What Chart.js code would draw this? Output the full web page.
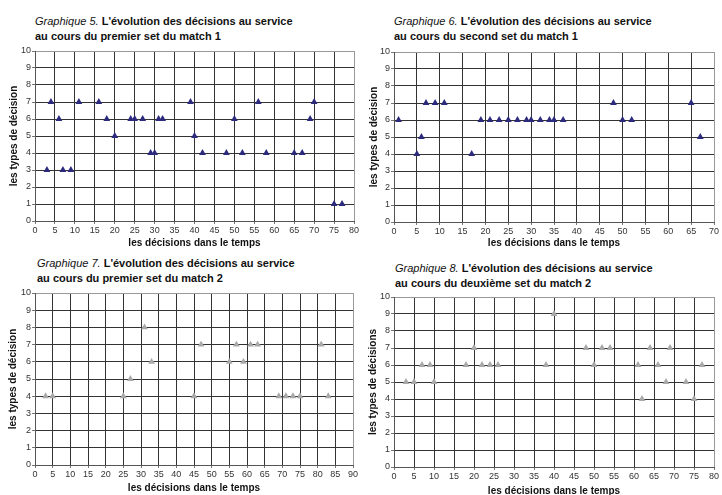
<!DOCTYPE html>
<html><head><meta charset="utf-8">
<script src="https://cdn.jsdelivr.net/npm/chart.js@4"></script>
<style>
body{margin:0;background:#fff;width:722px;height:495px;position:relative;overflow:hidden;font-family:"Liberation Sans",Arial,sans-serif;}
.t{position:absolute;font-size:11px;line-height:15px;color:#111;font-weight:bold;white-space:nowrap;}
.t i{font-weight:normal;}
canvas{position:absolute;}
</style></head><body>
<div class="t" style="left:35px;top:14px"><i>Graphique 5.</i> L'évolution des décisions au service<br>au cours du premier set du match 1</div>
<div class="t" style="left:394px;top:14px"><i>Graphique 6.</i> L'évolution des décisions au service<br>au cours du second set du match 1</div>
<div class="t" style="left:37px;top:256px"><i>Graphique 7.</i> L'évolution des décisions au service<br>au cours du premier set du match 2</div>
<div class="t" style="left:395px;top:261px"><i>Graphique 8.</i> L'évolution des décisions au service<br>au cours du deuxième set du match 2</div>
<canvas id="c1" width="361" height="209" style="left:0;top:40px"></canvas>
<canvas id="c2" width="361" height="209" style="left:361px;top:40px"></canvas>
<canvas id="c3" width="361" height="209" style="left:0;top:285px"></canvas>
<canvas id="c4" width="361" height="212" style="left:361px;top:285px"></canvas>
<script>
// Graphique 5
const g5x = [3,4,6,7,9,11,16,18,20,24,25,27,29,30,31,32,39,40,42,48,50,52,56,58,65,67,69,70,75,77];
const g5y = [3,7,6,3,3,7,7,6,5,6,6,6,4,4,6,6,7,5,4,4,6,4,7,4,4,4,6,7,1,1];
// Graphique 6
const g6x = [1,5,6,7,9,11,17,19,21,23,25,27,29,30,32,34,35,37,48,50,52,65,67];
const g6y = [6,4,5,7,7,7,4,6,6,6,6,6,6,6,6,6,6,6,7,6,6,7,5];
// Graphique 7
const g7x = [3,5,25,27,31,33,45,47,55,57,59,61,63,69,71,73,75,81,83];
const g7y = [4,4,4,5,8,6,4,7,6,7,6,7,7,4,4,4,4,7,4];
// Graphique 8
const g8x = [3,5,7,9,10,18,20,22,24,26,38,40,48,50,52,54,61,62,64,66,68,69,73,75,77];
const g8y = [5,5,6,6,5,6,7,6,6,6,6,9,7,6,7,7,6,4,7,6,5,7,5,4,6];

const xTitle = 'les décisions dans le temps';
const yTitle = 'les types de décision';
const yTitle2 = 'les types de décisions';

function mk(id, xs, ys, xmax, color, yt, padLeft, yW, padTop, padRight, xH){
  const pts = xs.map((x,i)=>({x:x,y:ys[i]}));
  new Chart(document.getElementById(id), {
    type:'scatter',
    data:{datasets:[{data:pts, pointStyle:'triangle', radius:3.9, backgroundColor:color, borderColor:color, borderWidth:0}]},
    options:{
      responsive:false, animation:false, devicePixelRatio:1,
      layout:{padding:{top:padTop, right:padRight, left:padLeft, bottom:0}},
      plugins:{legend:{display:false}, tooltip:{enabled:false}},
      scales:{
        x:{type:'linear', min:0, max:xmax,
          ticks:{stepSize:5, color:'#333', font:{family:'Liberation Sans', size:9}, padding:1, maxRotation:0},
          grid:{color:(c)=> c.tick && c.tick.value===xmax ? '#999' : '#333', lineWidth:1, tickLength:3, tickColor:'#777'},
          border:{color:'#555', width:1},
          title:{display:true, text:xTitle, color:'#111', font:{family:'Liberation Sans', size:10, weight:'bold'}, padding:{top:2,bottom:0}},
          afterFit:(s)=>{s.height=xH;}
        },
        y:{min:0, max:10,
          ticks:{stepSize:1, color:'#333', font:{family:'Liberation Sans', size:9}, padding:1},
          grid:{color:(c)=> c.tick && c.tick.value===10 ? '#999' : '#333', lineWidth:1, tickLength:3, tickColor:'#777'},
          border:{color:'#555', width:1},
          title:{display:true, text:yt, color:'#111', font:{family:'Liberation Sans', size:10, weight:'bold'}, padding:{top:0,bottom:2}},
          afterFit:(s)=>{s.width=yW;}
        }
      }
    }
  });
}
mk('c1', g5x, g5y, 80, '#2c2a7c', yTitle, 8, 27, 11, 7, 28);
mk('c2', g6x, g6y, 70, '#2c2a7c', yTitle, 7, 26, 12, 8, 27);
mk('c3', g7x, g7y, 90, '#a8a8a8', yTitle, 7, 28, 8, 8, 29);
mk('c4', g8x, g8y, 80, '#a8a8a8', yTitle2, 6, 27, 12, 8, 30);
</script>
</body></html>
